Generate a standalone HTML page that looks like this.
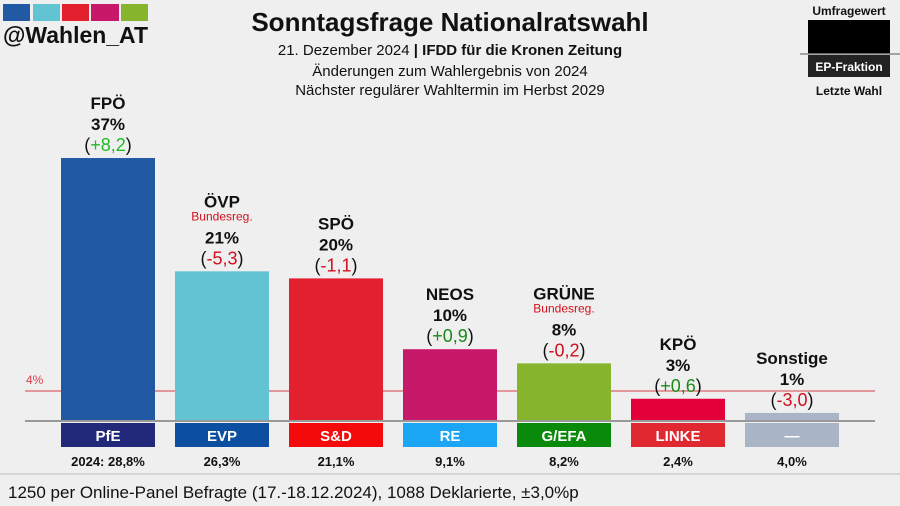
<!DOCTYPE html>
<html><head><meta charset="utf-8"><style>
body{margin:0;background:#efefef;}
svg{display:block;font-family:"Liberation Sans",sans-serif;}
</style></head><body>
<svg id="chart" width="900" height="506" viewBox="0 0 900 506" xmlns="http://www.w3.org/2000/svg">
<rect width="900" height="506" fill="#efefef"/>
<g>
<rect x="3" y="4" width="27" height="17" fill="#2159a5"/><rect x="33" y="4" width="27" height="17" fill="#62c3d2"/><rect x="62" y="4" width="27" height="17" fill="#e2202e"/><rect x="91" y="4" width="28" height="17" fill="#c8186a"/><rect x="121" y="4" width="27" height="17" fill="#86b42c"/>
<text x="3" y="43" font-size="23" font-weight="bold" fill="#111" textLength="145" lengthAdjust="spacingAndGlyphs">@Wahlen_AT</text>
</g>
<text x="450" y="31" text-anchor="middle" font-size="26" font-weight="bold" fill="#111">Sonntagsfrage Nationalratswahl</text>
<text x="450" y="55" text-anchor="middle" font-size="15" fill="#111">21. Dezember 2024 <tspan font-weight="bold">| IFDD für die Kronen Zeitung</tspan></text>
<text x="450" y="76" text-anchor="middle" font-size="15" fill="#111">Änderungen zum Wahlergebnis von 2024</text>
<text x="450" y="95" text-anchor="middle" font-size="15" fill="#111">Nächster regulärer Wahltermin im Herbst 2029</text>
<g>
<text x="849" y="15" text-anchor="middle" font-size="12" font-weight="bold" fill="#111">Umfragewert</text>
<rect x="808" y="20" width="82" height="34" fill="#000"/>
<line x1="800" y1="54" x2="900" y2="54" stroke="#888" stroke-width="1.5"/>
<rect x="808" y="55" width="82" height="22" fill="#222"/>
<text x="849" y="71" text-anchor="middle" font-size="12" font-weight="bold" fill="#fff">EP-Fraktion</text>
<text x="849" y="95" text-anchor="middle" font-size="12" font-weight="bold" fill="#111">Letzte Wahl</text>
</g>
<line x1="25" y1="391" x2="875" y2="391" stroke="#d9404a" stroke-width="1"/>
<text x="26" y="384" font-size="12" fill="#d9404a">4%</text>
<g id="bars"></g>
<line x1="25" y1="421" x2="875" y2="421" stroke="#999" stroke-width="2"/>
<line x1="0" y1="474" x2="900" y2="474" stroke="#bbb" stroke-width="1"/>
<text x="8" y="498" font-size="17" fill="#111">1250 per Online-Panel Befragte (17.-18.12.2024), 1088 Deklarierte, ±3,0%p</text>
</svg>
<script>
const parties=["FPÖ","ÖVP","SPÖ","NEOS","GRÜNE","KPÖ","Sonstige"];
const values=[37,21,20,10,8,3,1];
const changes=["+8,2","-5,3","-1,1","+0,9","-0,2","+0,6","-3,0"];
const previous=["2024: 28,8%","26,3%","21,1%","9,1%","8,2%","2,4%","4,0%"];
const groups=["PfE","EVP","S&D","RE","G/EFA","LINKE","—"];
const govt=[false,true,false,false,true,false,false];
const barColors=["#2159a5","#62c3d2","#e2202e","#c8186a","#86b42c","#e4003a","#a9b4c6"];
const groupColors=["#23297a","#0c4fa0","#f40a0a","#1aa6f5","#0a8a0a","#e02831","#a9b4c6"];
const NS="http://www.w3.org/2000/svg";
const g=document.getElementById('bars');
const x0=108,step=114,bw=94,base=420,scale=7.08;
const xs=i=>x0+i*step, ys=v=>base-v*scale;
function mk(t,a){const e=document.createElementNS(NS,t);for(const k in a)e.setAttribute(k,a[k]);g.appendChild(e);return e;}
parties.forEach((p,i)=>{
 const cx=xs(i),top=ys(values[i]);
 const r=mk('rect',{x:cx-bw/2,y:top,width:bw,height:base-top,fill:barColors[i]});
 
 
 const gb=mk('rect',{x:cx-bw/2,y:423,width:bw,height:24,fill:groupColors[i]});
 
 
 const gt=mk('text',{x:cx,y:441,'text-anchor':'middle','font-size':15,'font-weight':'bold',fill:'#fff'});gt.textContent=groups[i];
 
 
 const pv=mk('text',{x:cx,y:466,'text-anchor':'middle','font-size':13,'font-weight':'bold',fill:'#111'});pv.textContent=previous[i];
 
 
 const ch=mk('text',{x:cx,y:top-7,'text-anchor':'middle','font-size':18,fill:'#111'});
 const col=changes[i][0]=='+'?(i==0?'#22bb22':'#1a8a1a'):'#d0101e';
 ch.innerHTML='(<tspan fill="'+col+'">'+changes[i]+'</tspan>)';
 
 
 const pc=mk('text',{x:cx,y:top-28,'text-anchor':'middle','font-size':17,'font-weight':'bold',fill:'#111'});pc.textContent=values[i]+'%';
 
 
 let ny=top-49;
 if(govt[i]){const b=mk('text',{x:cx,y:top-51,'text-anchor':'middle','font-size':12,fill:'#d0101e'});b.textContent='Bundesreg.';
  
  
  ny=top-64;}
 const n=mk('text',{x:cx,y:ny,'text-anchor':'middle','font-size':17,'font-weight':'bold',fill:'#111'});n.textContent=p;
 
 
});
</script>
</body></html>
